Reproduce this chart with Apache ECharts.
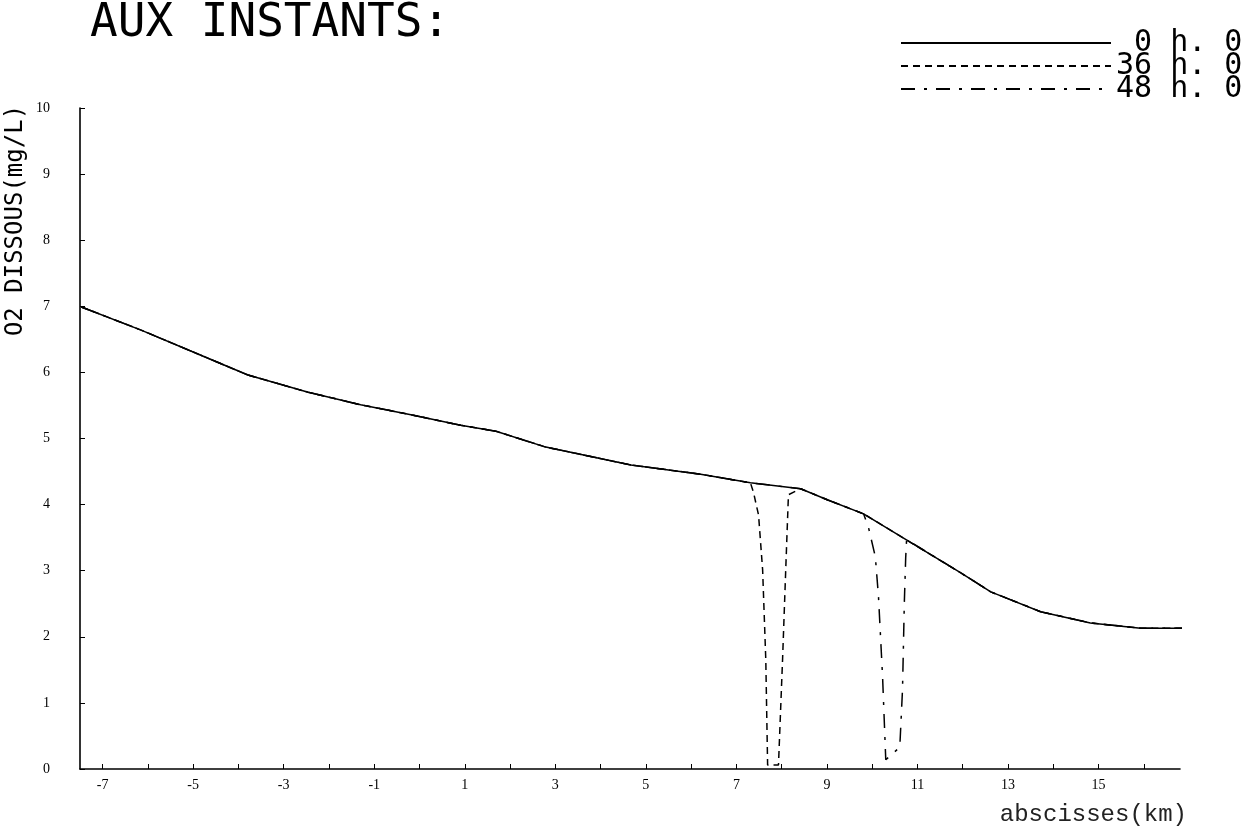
<!DOCTYPE html>
<html>
<head>
<meta charset="utf-8">
<script src="https://cdn.jsdelivr.net/npm/echarts@6.0.0/dist/echarts.min.js"></script>
<style>
  html, body { margin: 0; padding: 0; background: #ffffff; }
  #chart { width: 1254px; height: 831px; }
</style>
</head>
<body>
<div id="chart"></div>
<script>
// ---- Data ----
const seriesNames = ['0 h. 0', '36 h. 0', '48 h. 0'];

// 0 h. 0 (solid)
const x0h = [-7.47, -6.15, -4.83, -3.79, -2.46, -1.30, -0.19, 0.91, 1.69, 2.79, 4.67, 6.21, 7.31, 8.42, 9.02, 9.81, 11.95, 12.62, 13.72, 14.82, 15.93, 16.9];
const y0h = [6.99, 6.64, 6.26, 5.96, 5.70, 5.51, 5.36, 5.20, 5.11, 4.87, 4.60, 4.46, 4.33, 4.24, 4.07, 3.86, 2.97, 2.68, 2.38, 2.21, 2.13, 2.13];

// 36 h. 0 (dashed)
const x36h = [-7.47, -6.15, -4.83, -3.79, -2.46, -1.30, -0.19, 0.91, 1.69, 2.79, 4.67, 6.21, 7.31, 7.38, 7.49, 7.58, 7.65, 7.69, 7.93, 8.02, 8.09, 8.15, 8.42, 9.02, 9.81, 11.95, 12.62, 13.72, 14.82, 15.93, 16.9];
const y36h = [6.99, 6.64, 6.26, 5.96, 5.70, 5.51, 5.36, 5.20, 5.11, 4.87, 4.60, 4.46, 4.33, 4.18, 3.84, 3.01, 1.65, 0.06, 0.06, 1.65, 3.01, 4.15, 4.24, 4.07, 3.86, 2.97, 2.68, 2.38, 2.21, 2.13, 2.13];

// 48 h. 0 (dash-dot)
const x48h = [-7.47, -6.15, -4.83, -3.79, -2.46, -1.30, -0.19, 0.91, 1.69, 2.79, 4.67, 6.21, 7.31, 8.42, 9.02, 9.81, 9.92, 10.07, 10.14, 10.23, 10.30, 10.61, 10.67, 10.71, 10.74, 10.76, 11.95, 12.62, 13.72, 14.82, 15.93, 16.9];
const y48h = [6.99, 6.64, 6.26, 5.96, 5.70, 5.51, 5.36, 5.20, 5.11, 4.87, 4.60, 4.46, 4.33, 4.24, 4.07, 3.86, 3.65, 3.21, 2.60, 1.39, 0.14, 0.33, 1.20, 2.51, 3.19, 3.47, 2.97, 2.68, 2.38, 2.21, 2.13, 2.13];

// Axis ticks / labels
const xLabelValues = [-7, -5, -3, -1, 1, 3, 5, 7, 9, 11, 13, 15];
const xTickValues = [-7, -6, -5, -4, -3, -2, -1, 0, 1, 2, 3, 4, 5, 6, 7, 8, 9, 10, 11, 12, 13, 14, 15, 16];
const yLabelValues = [0, 1, 2, 3, 4, 5, 6, 7, 8, 9, 10];

function pairs(xs, ys) { return xs.map((x, i) => [x, ys[i]]); }

const chart = echarts.init(document.getElementById('chart'), null, { renderer: 'canvas' });

const labelFont = { fontFamily: 'Liberation Serif', fontSize: 14, color: '#000' };

chart.setOption({
  animation: false,
  backgroundColor: '#ffffff',
  title: {
    text: 'AUX INSTANTS:',
    left: 85,
    top: -4,
    textStyle: { fontFamily: 'DejaVu Sans Mono', fontSize: 46, fontWeight: 'normal', color: '#000' }
  },
  legend: {
    data: seriesNames,
    orient: 'vertical',
    left: 900,
    top: 28,
    padding: 0,
    itemGap: -7,
    itemWidth: 210,
    itemHeight: 14,
    itemStyle: { opacity: 0 },
    formatter: name => name.padStart(7, ' '),
    textStyle: { fontFamily: 'DejaVu Sans Mono', fontSize: 30, color: '#000' }
  },
  grid: { left: 80, right: 74, top: 108, bottom: 62, containLabel: false, outerBoundsMode: 'none' },
  xAxis: {
    type: 'value',
    min: -7.5,
    max: 16.8,
    name: 'abscisses(km)',
    nameLocation: 'end',
    nameGap: 7,
    nameTextStyle: { fontFamily: 'Liberation Mono', fontSize: 24, color: '#222', align: 'right', verticalAlign: 'top', padding: [34, 0, 0, 0] },
    axisLine: { show: true, onZero: false, lineStyle: { color: '#000', width: 1.6 } },
    axisTick: { show: true, inside: true, length: 5, customValues: xTickValues, lineStyle: { color: '#000', width: 1 } },
    axisLabel: Object.assign({ customValues: xLabelValues, margin: 9 }, labelFont),
    splitLine: { show: false }
  },
  yAxis: {
    type: 'value',
    min: 0,
    max: 10,
    interval: 1,
    name: 'O2 DISSOUS(mg/L)',
    nameLocation: 'middle',
    nameRotate: 90,
    nameGap: 52,
    nameMoveOverlap: false,
    nameTextStyle: { fontFamily: 'DejaVu Sans Mono', fontSize: 24, color: '#000', padding: [0, 0, 0, 436] },
    axisLine: { show: true, onZero: false, lineStyle: { color: '#000', width: 1.6 } },
    axisTick: { show: true, inside: true, length: 5, lineStyle: { color: '#000', width: 1 } },
    axisLabel: Object.assign({ margin: 30, customValues: yLabelValues }, labelFont),
    splitLine: { show: false }
  },
  series: [
    {
      name: seriesNames[0], type: 'line', symbol: 'none', z: 3,
      data: pairs(x0h, y0h),
      lineStyle: { color: '#000', width: 1.5, type: 'solid' },
      itemStyle: { color: '#000' }
    },
    {
      name: seriesNames[1], type: 'line', symbol: 'none', z: 2,
      data: pairs(x36h, y36h),
      lineStyle: { color: '#000', width: 1.5, type: [7, 5] },
      itemStyle: { color: '#000' }
    },
    {
      name: seriesNames[2], type: 'line', symbol: 'none', z: 2,
      data: pairs(x48h, y48h),
      lineStyle: { color: '#000', width: 1.5, type: [14, 9, 3, 9] },
      itemStyle: { color: '#000' }
    }
  ]
});
</script>
</body>
</html>
